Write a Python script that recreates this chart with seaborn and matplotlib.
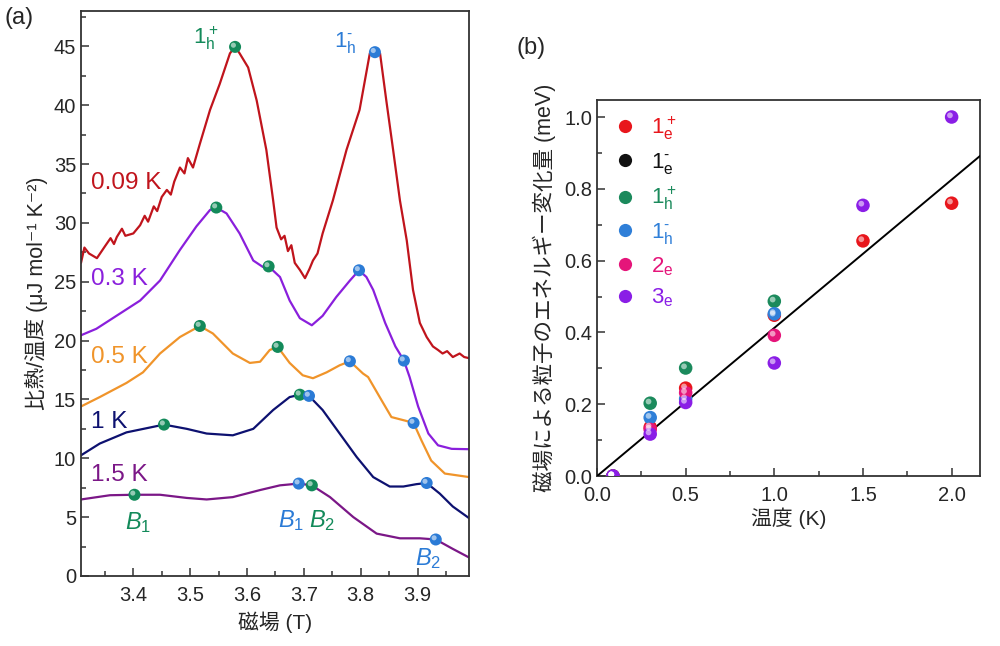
import numpy as np
import pandas as pd
import matplotlib
matplotlib.use('Agg')
import matplotlib.pyplot as plt
import matplotlib.transforms as mtransforms
from matplotlib.ticker import MultipleLocator
import seaborn as sns

# ---- (a) 比熱/温度 vs 磁場 ----
b_009 = [3.308, 3.314, 3.322, 3.336, 3.350, 3.360, 3.366, 3.371, 3.380, 3.386, 3.400, 3.412,
         3.420, 3.426, 3.436, 3.442, 3.450, 3.459, 3.466, 3.472, 3.482, 3.490, 3.496, 3.505,
         3.517, 3.535, 3.552, 3.570, 3.579, 3.587, 3.602, 3.617, 3.634, 3.646, 3.652, 3.660,
         3.666, 3.672, 3.678, 3.684, 3.693, 3.702, 3.710, 3.716, 3.724, 3.733, 3.751, 3.775,
         3.798, 3.816, 3.825, 3.834, 3.845, 3.857, 3.869, 3.881, 3.892, 3.904, 3.916, 3.927,
         3.936, 3.944, 3.952, 3.962, 3.974, 3.982, 3.991]
c_009 = [26.6, 27.9, 27.4, 27.0, 28.0, 28.7, 28.2, 28.8, 29.5, 28.9, 29.1, 29.8,
         30.6, 30.1, 31.4, 31.0, 32.2, 32.8, 32.4, 33.5, 34.7, 34.2, 35.5, 34.7,
         36.7, 39.6, 41.8, 44.4, 44.95, 44.4, 43.2, 40.4, 36.2, 31.9, 29.6, 28.6,
         28.9, 27.6, 28.1, 26.6, 26.0, 25.3, 26.1, 26.8, 27.4, 29.1, 31.9, 36.2,
         39.6, 44.4, 44.5, 44.4, 40.4, 36.2, 31.9, 28.5, 24.3, 21.5, 20.3, 19.5,
         19.2, 18.9, 19.1, 18.6, 18.9, 18.6, 18.5]

b_03 = [3.308, 3.335, 3.412, 3.447, 3.482, 3.511, 3.535, 3.546, 3.564, 3.587, 3.611, 3.628,
        3.638, 3.658, 3.675, 3.693, 3.714, 3.733, 3.757, 3.781, 3.797, 3.810, 3.822, 3.843,
        3.861, 3.876, 3.886, 3.901, 3.919, 3.936, 3.960, 3.991]
c_03 = [20.45, 21.0, 23.4, 25.1, 27.7, 29.7, 31.1, 31.3, 30.8, 29.1, 26.8, 26.25,
        26.3, 25.4, 23.4, 21.9, 21.3, 22.1, 23.7, 25.1, 25.97, 25.4, 24.3, 21.5,
        19.5, 18.3, 16.9, 14.4, 12.1, 11.1, 10.8, 10.77]

b_05 = [3.308, 3.341, 3.388, 3.417, 3.447, 3.482, 3.517, 3.540, 3.575, 3.605, 3.623, 3.640,
        3.654, 3.675, 3.698, 3.716, 3.740, 3.763, 3.781, 3.804, 3.813, 3.837, 3.854, 3.878,
        3.893, 3.907, 3.924, 3.948, 3.991]
c_05 = [14.4, 15.2, 16.4, 17.3, 18.9, 20.3, 21.24, 20.6, 18.9, 18.1, 18.2, 19.2,
        19.46, 18.1, 17.05, 16.8, 17.3, 17.9, 18.24, 17.2, 16.9, 14.9, 13.5, 13.2,
        13.0, 11.5, 9.8, 8.7, 8.4]

b_1 = [3.308, 3.341, 3.388, 3.454, 3.494, 3.529, 3.575, 3.611, 3.646, 3.675, 3.693, 3.709,
       3.733, 3.763, 3.793, 3.822, 3.851, 3.875, 3.898, 3.916, 3.939, 3.962, 3.991]
c_1 = [10.25, 11.25, 12.2, 12.86, 12.5, 12.1, 11.95, 12.5, 14.1, 15.2, 15.4, 15.3,
       14.1, 12.1, 10.1, 8.4, 7.6, 7.6, 7.8, 7.9, 7.0, 5.9, 4.9]

b_15 = [3.308, 3.359, 3.402, 3.447, 3.494, 3.529, 3.575, 3.623, 3.658, 3.691, 3.714, 3.746,
        3.787, 3.828, 3.869, 3.904, 3.932, 3.962, 3.991]
c_15 = [6.5, 6.86, 6.9, 6.9, 6.63, 6.5, 6.7, 7.3, 7.7, 7.85, 7.7, 6.7,
        5.0, 3.6, 3.2, 3.2, 3.1, 2.3, 1.56]

curve_labels = ['0.09 K', '0.3 K', '0.5 K', '1 K', '1.5 K']
curve_colors = ['#c0141c', '#8a1fdc', '#f0942a', '#0d1170', '#7b1787']

# peaks marked on the curves
green_b = [3.579, 3.546, 3.638, 3.517, 3.654, 3.454, 3.693, 3.402, 3.714]
green_c = [44.95, 31.3, 26.3, 21.24, 19.46, 12.86, 15.4, 6.9, 7.7]
blue_b = [3.825, 3.797, 3.876, 3.781, 3.893, 3.709, 3.916, 3.691, 3.932]
blue_c = [44.5, 25.97, 18.3, 18.24, 13.0, 15.3, 7.9, 7.85, 3.1]

# ---- (b) エネルギー変化量 vs 温度 ----
series_labels = [r'$\mathregular{1_e^+}$', r'$\mathregular{1_e^{\text{-}}}$', r'$\mathregular{1_h^+}$',
                 r'$\mathregular{1_h^{\text{-}}}$', r'$\mathregular{2_e}$', r'$\mathregular{3_e}$']
series_colors = ['#e8161c', '#111111', '#1b8a5c', '#2f7fd8', '#e5157a', '#8a1ee6']
t_1e_plus = [0.09, 0.3, 0.5, 1.0, 1.5, 2.0]
e_1e_plus = [0.0, 0.136, 0.245, 0.448, 0.655, 0.760]
t_1e_minus = [0.09]
e_1e_minus = [0.0]
t_1h_plus = [0.09, 0.3, 0.5, 1.0]
e_1h_plus = [0.0, 0.203, 0.301, 0.487]
t_1h_minus = [0.09, 0.3, 0.5, 1.0]
e_1h_minus = [0.0, 0.163, 0.215, 0.452]
t_2e = [0.09, 0.3, 0.5, 1.0]
e_2e = [0.0, 0.130, 0.232, 0.392]
t_3e = [0.09, 0.3, 0.5, 1.0, 1.5, 2.0]
e_3e = [0.0, 0.117, 0.205, 0.315, 0.754, 1.0]
fit_t = [0.0, 2.2]
fit_e = [0.0, 0.908]

sns.set_theme(style='ticks')
plt.rcParams['font.family'] = ['Liberation Sans', 'Noto Sans CJK JP', 'DejaVu Sans']
plt.rcParams['mathtext.fontset'] = 'custom'
plt.rcParams['mathtext.rm'] = 'Liberation Sans'
plt.rcParams['mathtext.it'] = 'Liberation Sans:italic'
plt.rcParams['axes.unicode_minus'] = False

fig = plt.figure(figsize=(10, 6.46), dpi=100)
ax1 = fig.add_axes([0.081, 0.1084, 0.3883, 0.8746])
ax2 = fig.add_axes([0.597, 0.263, 0.383, 0.582])


def sphere(ax, x, y, color, s):
    # coloured ball with a small highlight
    sns.scatterplot(x=x, y=y, ax=ax, color=color, s=s, edgecolor='none', zorder=5, legend=False)
    off = mtransforms.ScaledTranslation(-1.2 / 72, 1.2 / 72, fig.dpi_scale_trans)
    ax.scatter(x, y, s=s * 0.18, color='white', alpha=0.55, edgecolors='none', zorder=6,
               transform=ax.transData + off)


frames = []
for name, b, c in zip(curve_labels, [b_009, b_03, b_05, b_1, b_15], [c_009, c_03, c_05, c_1, c_15]):
    frames.append(pd.DataFrame({'B': b, 'C': c, 'T': name}))
curves = pd.concat(frames)
sns.lineplot(data=curves, x='B', y='C', hue='T', palette=dict(zip(curve_labels, curve_colors)),
             estimator=None, sort=False, lw=1.6, ax=ax1, legend=False)
sphere(ax1, green_b, green_c, '#138a5a', 75)
sphere(ax1, blue_b, blue_c, '#2b7bd6', 75)

lab_y = [33.4, 25.2, 18.6, 13.1, 8.6]
for name, col, yy in zip(curve_labels, curve_colors, lab_y):
    ax1.text(3.325, yy, name, color=col, fontsize=17.5, va='center', ha='left')
ax1.text(3.528, 45.7, r'$\mathregular{1_h^+}$', color='#138a5a', fontsize=16, ha='center', va='center')
ax1.text(3.772, 45.3, r'$\mathregular{1_h^{\text{-}}}$', color='#2b7bd6', fontsize=16, ha='center', va='center')
ax1.text(3.408, 4.5, r'$B_1$', color='#138a5a', fontsize=17, ha='center', va='center')
ax1.text(3.677, 4.7, r'$B_1$', color='#2b7bd6', fontsize=17, ha='center', va='center')
ax1.text(3.732, 4.7, r'$B_2$', color='#138a5a', fontsize=17, ha='center', va='center')
ax1.text(3.918, 1.5, r'$B_2$', color='#2b7bd6', fontsize=17, ha='center', va='center')

ax1.set_xlim(3.308, 3.991)
ax1.set_ylim(0, 48)
ax1.xaxis.set_major_locator(MultipleLocator(0.1))
ax1.xaxis.set_minor_locator(MultipleLocator(0.05))
ax1.yaxis.set_major_locator(MultipleLocator(5))
ax1.yaxis.set_minor_locator(MultipleLocator(2.5))
ax1.set_xlabel('磁場 (T)', fontsize=15, labelpad=5)
ax1.set_ylabel('比熱/温度 (μJ mol⁻¹ K⁻²)', fontsize=15.5, labelpad=4)
fig.text(0.005, 0.972, '(a)', fontsize=17, va='center')

# ---- panel b ----
ts = [t_1e_plus, t_1e_minus, t_1h_plus, t_1h_minus, t_2e, t_3e]
es = [e_1e_plus, e_1e_minus, e_1h_plus, e_1h_minus, e_2e, e_3e]
sns.lineplot(x=fit_t, y=fit_e, color='black', lw=1.4, ax=ax2, zorder=3)
for t, e, col in zip(ts, es, series_colors):
    sphere(ax2, t, e, col, 95)

handles = [plt.Line2D([], [], marker='o', ls='none', ms=9.5, mfc=c, mec='none') for c in series_colors]
leg = ax2.legend(handles, series_labels, loc='upper left', frameon=False, fontsize=16,
                 handletextpad=0.6, labelspacing=0.4, borderaxespad=0.25, handlelength=1.2)
for txt, col in zip(leg.get_texts(), series_colors):
    txt.set_color(col)

ax2.set_xlim(0, 2.16)
ax2.set_ylim(0, 1.047)
ax2.xaxis.set_major_locator(MultipleLocator(0.5))
ax2.xaxis.set_minor_locator(MultipleLocator(0.25))
ax2.yaxis.set_major_locator(MultipleLocator(0.2))
ax2.yaxis.set_minor_locator(MultipleLocator(0.1))
ax2.set_xlabel('温度 (K)', fontsize=15, labelpad=2)
ax2.set_ylabel('磁場による粒子のエネルギー変化量 (meV)', fontsize=15.5, labelpad=6)
fig.text(0.516, 0.926, '(b)', fontsize=17, va='center')

for ax in (ax1, ax2):
    for sp in ax.spines.values():
        sp.set_visible(True)
        sp.set_color('#333333')
        sp.set_linewidth(1.3)
    ax.tick_params(which='both', direction='in', top=False, right=False, color='#333333',
                   labelsize=14.5, width=1.1)
    ax.tick_params(which='major', length=6)
    ax.tick_params(which='minor', length=3.5)
    ax.tick_params(axis='x', pad=7)

fig.savefig('out.png', dpi=100, facecolor='white')
